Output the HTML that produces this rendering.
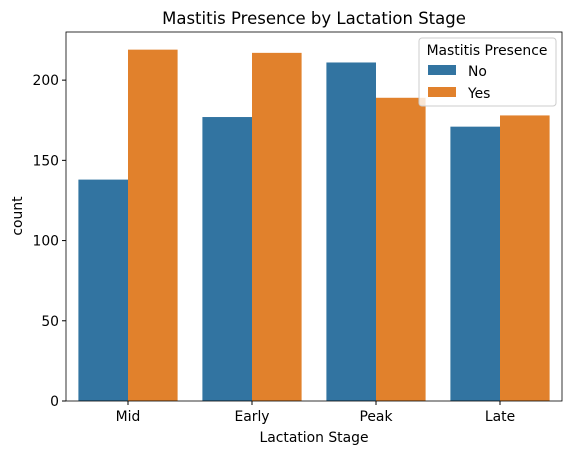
<!DOCTYPE html>
<html><head><meta charset="utf-8">
<style>
body{margin:0;background:#fff;font-family:"DejaVu Sans","Liberation Sans",sans-serif;}
svg text{font-family:"DejaVu Sans","Liberation Sans",sans-serif;}
</style></head>
<body>
<svg id="chart" width="571" height="455" xmlns="http://www.w3.org/2000/svg">
<rect width="571" height="455" fill="#fff"/>
<text x="314" y="24" text-anchor="middle" font-size="16.5" fill="#000">Mastitis Presence by Lactation Stage</text>
<g id="bars"></g>
<g id="axes"></g>
<text x="314" y="442" text-anchor="middle" font-size="13.9">Lactation Stage</text>
<text transform="translate(22,216) rotate(-90)" text-anchor="middle" font-size="13.9">count</text>
<g>
<rect x="419" y="38" width="137" height="68" fill="#fff" fill-opacity="0.8" stroke="#ccc" rx="3"/>
<text x="487" y="55" text-anchor="middle" font-size="13.9">Mastitis Presence</text>
<rect x="428" y="65" width="28" height="10" fill="#3274a1"/>
<text x="468" y="76" font-size="13.9">No</text>
<rect x="428" y="87" width="28" height="10" fill="#e1812c"/>
<text x="468" y="98" font-size="13.9">Yes</text>
</g>
</svg>
<script>
const categories=["Mid","Early","Peak","Late"];
const noValues=[138,177,211,171];
const yesValues=[219,217,189,178];
const yTicks=[0,50,100,150,200];
const L=66,R=562,T=32,B=401,yMax=230;
const y=v=>B-v*(B-T)/yMax;
const bw=(R-L)/categories.length;
const xc=i=>L+bw*(i+0.5);
const NS="http://www.w3.org/2000/svg";
const bars=document.getElementById('bars'),axes=document.getElementById('axes');
function mk(tag,attrs,parent){const e=document.createElementNS(NS,tag);for(const k in attrs)e.setAttribute(k,attrs[k]);parent.appendChild(e);return e;}
const w=bw*0.4;
categories.forEach((c,i)=>{
 let r=mk('rect',{x:xc(i)-w,y:y(noValues[i]),width:w,height:B-y(noValues[i]),fill:'#3274a1'},bars);
 
 
 let r2=mk('rect',{x:xc(i),y:y(yesValues[i]),width:w,height:B-y(yesValues[i]),fill:'#e1812c'},bars);
 
 
 mk('line',{x1:xc(i),x2:xc(i),y1:B,y2:B+4,stroke:'#000'},axes);
 let t=mk('text',{x:xc(i),y:B+20,'text-anchor':'middle','font-size':13.9},axes);t.textContent=c;
 
 
});
yTicks.forEach(v=>{
 mk('line',{x1:L-4,x2:L,y1:y(v),y2:y(v),stroke:'#000'},axes);
 let t=mk('text',{x:L-7,y:y(v)+5,'text-anchor':'end','font-size':13.9},axes);t.textContent=v;
 
 
});
mk('rect',{x:L,y:T,width:R-L,height:B-T,fill:'none',stroke:'#000','stroke-width':0.8},axes);
</script>
</body></html>
